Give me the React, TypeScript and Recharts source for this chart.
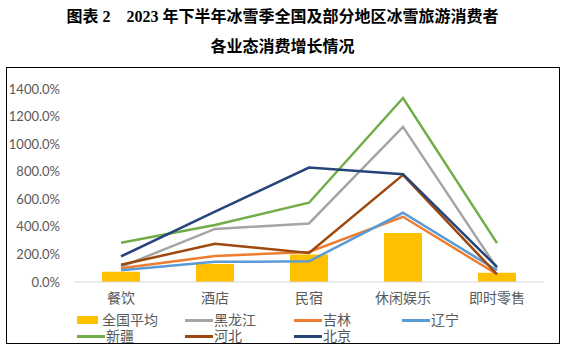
import { ComposedChart, Bar, Line, XAxis, YAxis, Legend } from "recharts";

const categories = ["餐饮", "酒店", "民宿", "休闲娱乐", "即时零售"];
const national = [75, 130, 200, 355, 68];
const heilongjiang = [110, 385, 425, 1125, 100];
const jilin = [100, 189, 218, 473, 56];
const liaoning = [85, 146, 150, 502, 85];
const xinjiang = [285, 413, 575, 1335, 282];
const hebei = [125, 277, 211, 777, 56];
const beijing = [185, 510, 830, 782, 109];
const yTicks = [0, 200, 400, 600, 800, 1000, 1200, 1400];

const lineSeries = [
  { name: "黑龙江", values: heilongjiang, color: "#A5A5A5" },
  { name: "吉林", values: jilin, color: "#ED7D31" },
  { name: "辽宁", values: liaoning, color: "#5B9BD5" },
  { name: "新疆", values: xinjiang, color: "#70AD47" },
  { name: "河北", values: hebei, color: "#9E480E" },
  { name: "北京", values: beijing, color: "#264478" },
];
const barName = "全国平均";
const barColor = "#FFC000";

const data = categories.map((c, i) => {
  const row: Record<string, string | number> = { name: c, [barName]: national[i] };
  lineSeries.forEach((s) => (row[s.name] = s.values[i]));
  return row;
});

const font = "Lato, 'Noto Sans CJK SC', sans-serif";
const textGray = "#595959";

// legend laid out like the Excel one: 4 columns, 2 rows
const legendCols = [70, 178, 287, 395];
const legendRows = [11, 27];

const ChartLegend = () => {
  const items = [{ name: barName, color: barColor, bar: true }, ...lineSeries.map((s) => ({ ...s, bar: false }))];
  return (
    <div style={{ position: "relative", width: 552, height: 34, fontFamily: font, fontSize: 14, color: textGray }}>
      {items.map((it, i) => {
        const col = i < 4 ? i : i - 4;
        const row = i < 4 ? 0 : 1;
        return (
          <div
            key={it.name}
            style={{
              position: "absolute",
              left: legendCols[col],
              top: legendRows[row] - 8,
              height: 16,
              display: "flex",
              alignItems: "center",
              whiteSpace: "nowrap",
            }}
          >
            {it.bar ? (
              <span style={{ display: "inline-block", width: 21, height: 8, background: it.color, marginRight: 4 }} />
            ) : (
              <span style={{ display: "inline-block", width: 28, height: 3, background: it.color, marginRight: 1 }} />
            )}
            <span style={{ lineHeight: "16px" }}>{it.name}</span>
          </div>
        );
      })}
    </div>
  );
};

export default function App() {
  return (
    <div style={{ position: "absolute", left: 0, top: 0, width: 565, height: 354, background: "#fff" }}>
      <div
        style={{
          position: "absolute",
          left: 0,
          top: 6,
          width: 565,
          textAlign: "center",
          fontFamily: "'Liberation Serif', 'Noto Sans CJK SC', serif",
          fontWeight: "bold",
          fontSize: 16,
          color: "#000",
        }}
      >
        <div style={{ height: 22, lineHeight: "22px" }}>图表 2&nbsp;&nbsp;&nbsp;&nbsp;2023 年下半年冰雪季全国及部分地区冰雪旅游消费者</div>
        <div style={{ height: 22, lineHeight: "22px", marginTop: 8 }}>各业态消费增长情况</div>
      </div>
      <div
        style={{
          position: "absolute",
          left: 6,
          top: 67,
          width: 554,
          height: 277,
          border: "1px solid #000",
          boxSizing: "border-box",
        }}
      >
        <ComposedChart width={552} height={275} data={data} margin={{ top: 21, right: 15, bottom: 0, left: 0 }}>
          <XAxis
            dataKey="name"
            height={27}
            tickLine={false}
            axisLine={{ stroke: "#D9D9D9" }}
            tickMargin={5}
            tick={{ fill: textGray, fontSize: 14, fontFamily: font }}
          />
          <YAxis
            width={67}
            domain={[0, 1400]}
            ticks={yTicks}
            axisLine={false}
            tickLine={false}
            tickMargin={8}
            tickFormatter={(v: number) => `${v.toFixed(1)}%`}
            tick={{ fill: textGray, fontSize: 13, fontFamily: font }}
          />
          <Legend
            content={<ChartLegend />}
            verticalAlign="bottom"
            wrapperStyle={{ left: 0, bottom: 0, width: 552, height: 34 }}
          />
          <Bar dataKey={barName} fill={barColor} barSize={38} isAnimationActive={false} />
          {lineSeries.map((s) => (
            <Line
              key={s.name}
              type="linear"
              dataKey={s.name}
              stroke={s.color}
              strokeWidth={2.5}
              dot={false}
              activeDot={false}
              isAnimationActive={false}
            />
          ))}
        </ComposedChart>
      </div>
    </div>
  );
}
